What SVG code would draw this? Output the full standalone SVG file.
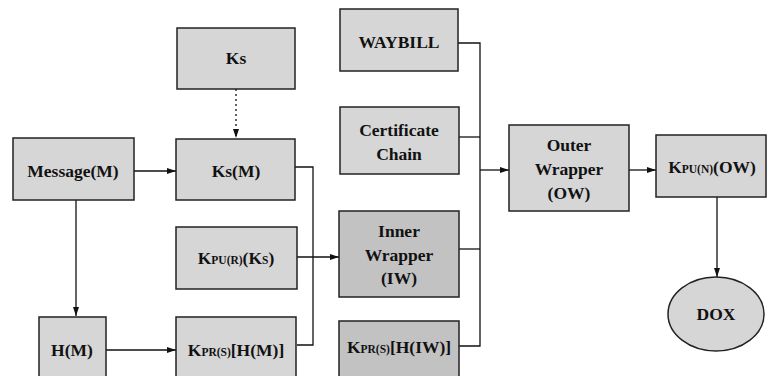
<svg xmlns="http://www.w3.org/2000/svg" width="768" height="376" viewBox="0 0 768 376">
<style>
.b{fill:#d6d6d6;stroke:#222;stroke-width:1.5}
.d{fill:#c2c2c2;stroke:#222;stroke-width:1.5}
.t{font-family:'Liberation Serif','DejaVu Serif','Times New Roman',serif;font-weight:700;font-size:17.5px;fill:#111;text-anchor:middle}
.s{font-size:11.5px}
.c{fill:none;stroke:#111;stroke-width:1.3}
</style>
<defs>
<marker id="a" markerUnits="userSpaceOnUse" markerWidth="10" markerHeight="8" refX="9" refY="4" orient="auto">
<path d="M0,1 L9,4 L0,7 Z" fill="#111"/>
</marker>
</defs>
<rect width="768" height="376" fill="#fff"/>
<g id="connectors">
<path class="c" d="M236,89 V138" stroke-dasharray="2,3" marker-end="url(#a)"/>
<path class="c" d="M134,171 H176" marker-end="url(#a)"/>
<path class="c" d="M76,200 V316" marker-end="url(#a)"/>
<path class="c" d="M106,350 H176" marker-end="url(#a)"/>
<path class="c" d="M295,167 H313 V345 H297"/>
<path class="c" d="M297,257 H339" marker-end="url(#a)"/>
<path class="c" d="M458,43 H480 V346 H459"/>
<path class="c" d="M459,137 H480"/>
<path class="c" d="M459,249 H480"/>
<path class="c" d="M480,170 H509" marker-end="url(#a)"/>
<path class="c" d="M629,170 H656" marker-end="url(#a)"/>
<path class="c" d="M717,197 V277" marker-end="url(#a)"/>
</g>
<g id="ks"><rect class="b" x="177" y="28" width="118" height="61"/><text class="t" x="236" y="64">Ks</text></g>
<g id="message"><rect class="b" x="13" y="138" width="121" height="62"/><text class="t" x="73" y="177">Message(M)</text></g>
<g id="ksm"><rect class="b" x="176" y="139" width="119" height="61"/><text class="t" x="236" y="177">Ks(M)</text></g>
<g id="waybill"><rect class="b" x="340" y="9" width="118" height="62"/><text class="t" x="399" y="48">WAYBILL</text></g>
<g id="cert"><rect class="b" x="340" y="107" width="119" height="67"/><text class="t" x="399" y="136">Certificate</text><text class="t" x="399" y="160">Chain</text></g>
<g id="outer"><rect class="b" x="509" y="125" width="120" height="86"/><text class="t" x="569" y="151">Outer</text><text class="t" x="569" y="175">Wrapper</text><text class="t" x="569" y="199">(OW)</text></g>
<g id="kpun"><rect class="b" x="656" y="135" width="110" height="62"/><text class="t" x="712" y="173">K<tspan class="s">PU(N)</tspan>(OW)</text></g>
<g id="kpur"><rect class="b" x="176" y="227" width="121" height="62"/><text class="t" x="236" y="264">K<tspan class="s">PU(R)</tspan>(K<tspan class="s">S</tspan>)</text></g>
<g id="inner"><rect class="d" x="339" y="211" width="120" height="86"/><text class="t" x="399" y="237">Inner</text><text class="t" x="399" y="261">Wrapper</text><text class="t" x="399" y="284">(IW)</text></g>
<g id="hm"><rect class="b" x="39" y="317" width="67" height="63"/><text class="t" x="72" y="356">H(M)</text></g>
<g id="kprhm"><rect class="b" x="176" y="317" width="120" height="63"/><text class="t" x="236" y="356">K<tspan class="s">PR(S)</tspan>[H(M)]</text></g>
<g id="kprhiw"><rect class="d" x="339" y="321" width="120" height="59"/><text class="t" x="399" y="353">K<tspan class="s">PR(S)</tspan>[H(IW)]</text></g>
<g id="dox"><ellipse class="b" cx="716" cy="314" rx="48" ry="37"/><text class="t" x="716" y="320">DOX</text></g>
</svg>
